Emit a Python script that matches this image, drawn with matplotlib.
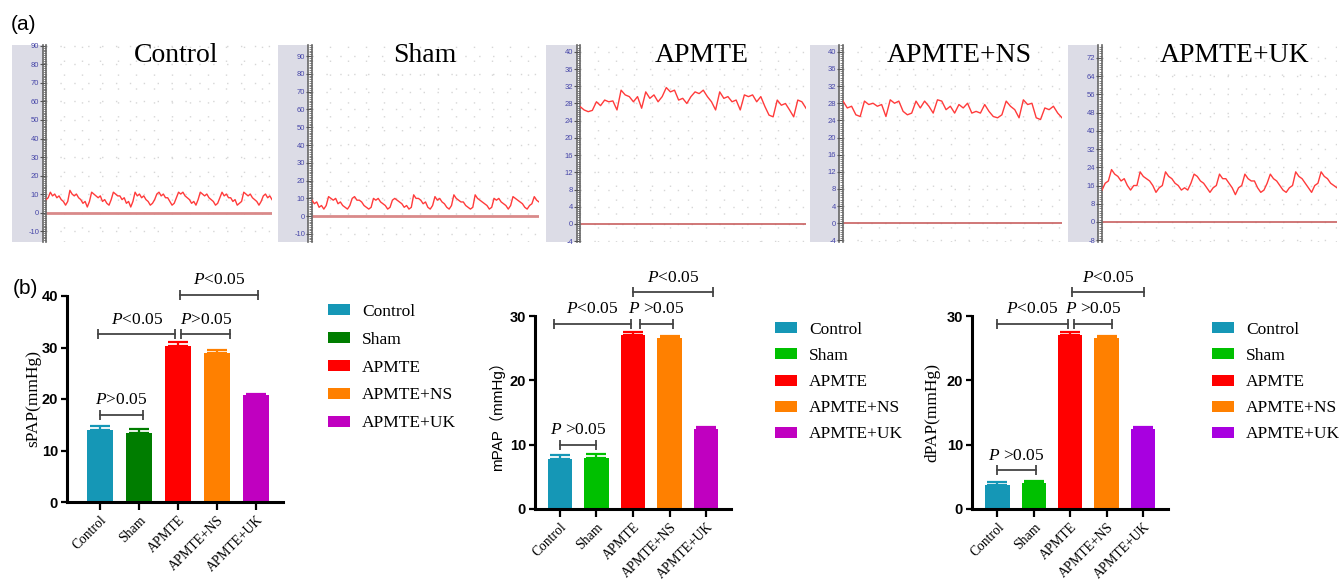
import numpy as np
import matplotlib
matplotlib.use("Agg")
import matplotlib.pyplot as plt
from matplotlib.ticker import MultipleLocator
from matplotlib.patches import Patch

####################################
#              data                #
####################################
groups = ["Control", "Sham", "APMTE", "APMTE+NS", "APMTE+UK"]

spap_mean = [14.0, 13.4, 30.3, 29.0, 20.7]
spap_err = [0.8, 0.7, 0.8, 0.6, 0.3]
mpap_mean = [7.7, 7.9, 27.1, 26.6, 12.4]
mpap_err = [0.65, 0.6, 0.45, 0.35, 0.4]
dpap_mean = [3.8, 4.0, 27.1, 26.6, 12.4]
dpap_err = [0.45, 0.4, 0.45, 0.35, 0.4]

# comparisons: (from, to, level, text)
spap_cmp = [(0.0, 1.1, 16.9, "$P$>0.05"), (-0.05, 1.93, 32.6, "$P$<0.05"),
            (2.08, 3.34, 32.6, "$P$>0.05"), (2.06, 4.04, 40.2, "$P$<0.05")]
mpap_cmp = [(0.0, 1.0, 10.0, "$P$ >0.05"), (-0.16, 1.94, 28.75, "$P$<0.05"),
            (2.19, 3.1, 28.75, "$P$ >0.05"), (2.0, 4.19, 33.7, "$P$<0.05")]
dpap_cmp = [(0.0, 1.06, 6.0, "$P$ >0.05"), (-0.02, 1.95, 28.75, "$P$<0.05"),
            (2.11, 3.16, 28.75, "$P$ >0.05"), (2.05, 4.04, 33.7, "$P$<0.05")]

# pressure traces (mmHg)
ctrl_trace = [7, 8, 11, 9, 10, 8, 9, 7, 6, 4,
              6, 12, 10, 9, 10, 8, 7, 5, 6, 3,
              6, 11, 10, 9, 8, 9, 6, 7, 5, 4,
              7, 11, 10, 9, 9, 7, 8, 5, 6, 3,
              6, 11, 9, 10, 8, 9, 7, 6, 4, 5,
              7, 10, 11, 9, 10, 8, 8, 6, 4, 5,
              8, 11, 10, 11, 9, 8, 7, 5, 6, 4,
              7, 11, 10, 9, 10, 8, 7, 6, 4, 5,
              8, 11, 9, 10, 8, 8, 6, 7, 4, 5,
              6, 11, 10, 9, 10, 8, 7, 6, 4, 6,
              9, 10, 8, 9, 7]
sham_trace = [9, 7, 8, 5, 6, 4, 6,
              11, 10, 9, 10, 7, 8, 6, 5, 4, 6,
              10, 11, 9, 9, 8, 6, 5, 4, 5,
              10, 9, 10, 8, 7, 6, 4, 5,
              9, 10, 9, 8, 7, 5, 6, 4, 5,
              12, 10, 10, 9, 7, 8, 5, 4, 6,
              11, 9, 10, 8, 7, 5, 4, 6,
              12, 10, 9, 8, 8, 6, 5, 4, 5,
              12, 10, 9, 8, 7, 6, 4, 5,
              10, 9, 10, 8, 7, 6, 4, 6,
              11, 10, 9, 8, 7, 5, 4, 6, 7,
              11, 9, 8]
apmte_trace = [27.3, 26.5, 26.1, 26.4, 28.4, 27.5, 28.8, 28.4, 28.6, 26.5,
               31.1, 30.0, 29.6, 28.4, 29.6, 26.9, 30.7, 29.2, 30.0, 28.4,
               29.6, 31.7, 30.7, 31.1, 28.8, 29.2, 28.0, 29.6, 30.7, 30.3,
               31.1, 29.6, 28.4, 26.5, 30.7, 29.2, 29.6, 28.4, 28.8, 26.5,
               30.0, 29.6, 30.0, 28.4, 29.6, 27.3, 25.3, 24.9, 28.8, 27.6,
               28.0, 26.5, 24.9, 28.8, 28.4, 26.9]
ns_trace = [28.5, 26.9, 27.3, 25.3, 24.9, 28.5, 27.7, 28.0, 27.3, 27.7,
            24.9, 28.8, 28.0, 28.5, 26.1, 25.3, 25.7, 28.5, 26.9, 28.5,
            27.3, 25.7, 28.8, 28.5, 26.5, 27.3, 25.7, 27.7, 26.9, 28.0,
            25.7, 26.1, 25.7, 27.7, 26.1, 24.9, 24.6, 25.3, 28.5, 27.3,
            26.5, 24.6, 28.8, 27.7, 28.0, 24.6, 24.2, 26.9, 26.5, 27.3,
            25.7, 24.6]
uk_trace = [14, 17, 18, 23, 21, 20, 18, 19, 16, 14, 16, 16,
            22, 20, 19, 18, 16, 13, 15, 16,
            22, 20, 19, 17, 16, 14, 15, 14, 17,
            21, 20, 18, 17, 15, 13, 15, 16,
            21, 19, 19, 17, 15, 12, 15, 16,
            21, 19, 18, 18, 15, 13, 14, 17,
            21, 19, 18, 16, 14, 13, 15, 16,
            22, 20, 19, 17, 15, 13, 16, 17,
            22, 20, 19, 17, 16, 15]

trace_names = ["Control", "Sham", "APMTE", "APMTE+NS", "APMTE+UK"]
traces = [ctrl_trace, sham_trace, apmte_trace, ns_trace, uk_trace]

####################################
#            layout                #
####################################
W, H = 1344, 585
plt.rcParams["mathtext.fontset"] = "custom"
plt.rcParams["mathtext.it"] = "Liberation Serif:italic"
plt.rcParams["mathtext.rm"] = "Liberation Serif"
plt.rcParams["axes.unicode_minus"] = False
SERIF = "Liberation Serif"
SANS = "Liberation Sans"


def frac(l, t, r, b):
    return [l / W, 1 - b / H, (r - l) / W, (b - t) / H]


fig = plt.figure(figsize=(W / 100, H / 100), dpi=100)

# strip left, strip right, plot left, plot right, ylim, major, minor, title centre
a_panels = [(12, 43, 46, 272, (-15.9, 90.5), 10, 1, 176),
            (278, 308, 312, 539, (-14.5, 96.2), 10, 1, 425),
            (546, 577, 580, 806, (-4.2, 41.6), 4, 0.5, 702),
            (810, 839, 843, 1062, (-4.4, 41.6), 4, 0.5, 959),
            (1068, 1098, 1102, 1337, (-8.8, 77.7), 8, 1, 1235)]
TOP, BOT = 45, 242

for (sl, sr, pl, pr, ylim, major, minor, tx), name, tr in zip(a_panels, trace_names, traces):
    strip = fig.add_axes(frac(sl, TOP, sr, BOT))
    strip.set_facecolor("#dcdce6")
    for s in ["top", "left", "bottom"]:
        strip.spines[s].set_visible(False)
    strip.spines["right"].set_color("#666666")
    strip.spines["right"].set_linewidth(1.2)
    strip.set_xticks([])
    strip.set_yticks([])

    ax = fig.add_axes(frac(pl, TOP, pr, BOT))
    for s in ["top", "right", "bottom"]:
        ax.spines[s].set_visible(False)
    ax.spines["left"].set_color("#666666")
    ax.spines["left"].set_linewidth(1.2)
    x = np.arange(len(tr))
    ax.axhline(0, color="#d98a8a" if major == 10 else "#c86060",
               lw=2.0 if major == 10 else 1.2, zorder=2)
    ax.plot(x, tr, color="#ff3b3b", lw=1.0, zorder=3)
    ax.set_xlim(0, len(tr) - 1)
    ax.set_ylim(*ylim)
    ax.yaxis.set_major_locator(MultipleLocator(major))
    ax.yaxis.set_minor_locator(MultipleLocator(minor))
    ax.xaxis.set_major_locator(MultipleLocator((len(tr) - 1) * 18.0 / (pr - pl)))
    ax.tick_params(axis="x", length=0, labelbottom=False)
    ax.tick_params(axis="y", which="major", length=4, width=0.8, color="#555555",
                   labelsize=5.5, labelcolor="#4646a8", pad=1)
    ax.tick_params(axis="y", which="minor", length=2, width=0.6, color="#777777")
    for lab in ax.get_yticklabels():
        lab.set_fontfamily(SANS)
    ax.grid(True, which="major", color="#d6d6d6", linestyle=(0, (1, 9)), lw=1.0)
    fig.text(tx / W, 1 - 62 / H, name, family=SERIF, fontsize=20,
             ha="center", va="baseline")

fig.text(24 / W, 1 - 25 / H, "(a)", family=SANS, fontsize=15, ha="center", va="center")
fig.text(25 / W, 1 - 288 / H, "(b)", family=SANS, fontsize=15, ha="center", va="center")

####################################
#           bar charts             #
####################################
b_charts = [
    (spap_mean, spap_err, spap_cmp, "sPAP(mmHg)", SERIF, 12.5,
     ["#1597b6", "#007d00", "#ff0000", "#ff8000", "#c000c0"],
     (67, 296, 283, 502), 40, (-0.85, 4.69), -0.12, (328, 304), 0.68),
    (mpap_mean, mpap_err, mpap_cmp, "mPAP（mmHg）", SANS, 11,
     ["#1597b6", "#00c000", "#ff0000", "#ff8000", "#c000c0"],
     (535, 316, 731, 509), 30, (-0.68, 4.68), -0.153, (775, 322), 0.58),
    (dpap_mean, dpap_err, dpap_cmp, "dPAP(mmHg)", SERIF, 12.5,
     ["#1597b6", "#00c000", "#ff0000", "#ff8000", "#a800e0"],
     (972, 316, 1168, 509), 30, (-0.70, 4.69), -0.163, (1212, 322), 0.58),
]

for means, errs, cmps, ylab, yfam, ysize, colors, box, ytop, xlim, labx, legpos, lspace in b_charts:
    ax = fig.add_axes(frac(*box))
    xs = np.arange(len(groups))
    ax.bar(xs, means, width=0.67, color=colors, zorder=2)
    for xi, m, e, c in zip(xs, means, errs, colors):
        ax.errorbar(xi, m, yerr=[[0], [e]], fmt="none", ecolor=c, elinewidth=1.6,
                    capsize=7, capthick=1.6, zorder=1)
    ax.set_ylim(0, ytop)
    ax.set_xlim(*xlim)
    ax.yaxis.set_major_locator(MultipleLocator(10))
    for s in ["top", "right"]:
        ax.spines[s].set_visible(False)
    for s in ["left", "bottom"]:
        ax.spines[s].set_linewidth(2.2)
    ax.tick_params(axis="y", length=4.5, width=1.6, labelsize=10.5, pad=2)
    ax.tick_params(axis="x", length=6, width=1.6, pad=2.5)
    for lab in ax.get_yticklabels():
        lab.set_fontfamily(SANS)
        lab.set_fontweight("bold")
    ax.set_xticks(xs)
    ax.set_xticklabels(groups, rotation=45, ha="right", va="top",
                       rotation_mode="anchor", family=SERIF, fontsize=9.8)
    ax.set_ylabel(ylab, family=[yfam, "Noto Sans CJK SC"], fontsize=ysize)
    ax.yaxis.set_label_coords(labx, 0.5)

    for x1, x2, lvl, txt in cmps:
        ax.plot([x1, x2], [lvl, lvl], color="#444444", lw=1.3, marker="|",
                markersize=7, markeredgewidth=1.3, clip_on=False)
        ax.annotate(txt, xy=((x1 + x2) / 2, lvl), xytext=(0, 10.5),
                    textcoords="offset points", ha="center", va="center",
                    family=SERIF, fontsize=12.5, annotation_clip=False)

    handles = [Patch(facecolor=c, edgecolor="none", label=g) for g, c in zip(groups, colors)]
    ax.legend(handles=handles, loc="upper left",
              bbox_to_anchor=(legpos[0] / W, 1 - legpos[1] / H),
              bbox_transform=fig.transFigure, frameon=False, borderpad=0,
              borderaxespad=0, handlelength=1.25, handleheight=0.6,
              handletextpad=0.7, labelspacing=lspace,
              prop={"family": SERIF, "size": 12.5})

fig.savefig("out.png", dpi=100)
